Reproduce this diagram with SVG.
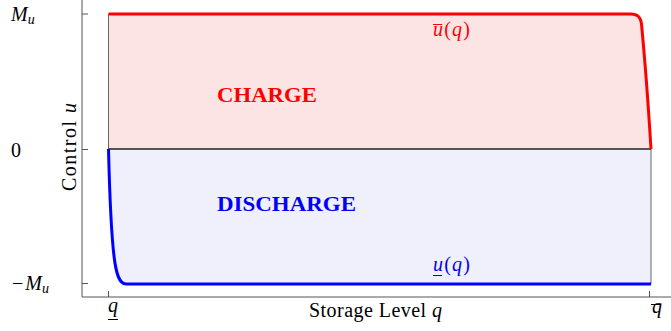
<svg xmlns="http://www.w3.org/2000/svg" width="671" height="331" viewBox="0 0 671 331">
<style>
text{font-family:'Liberation Serif','Times New Roman','DejaVu Serif','Noto Serif',serif}
.t{font-size:20px;fill:#000}
.red{fill:#ff0000}
.blue{fill:#0000ff}
.i{font-style:italic}
.ax{stroke:#555;stroke-width:1;fill:none}
.br{stroke:#666;stroke-width:1;fill:none}
.lab{font-weight:bold;font-size:20px}
</style>
<rect width="671" height="331" fill="#fff"/>
<g id="regions">
<path id="charge-region" d="M108.5,14 L631,14 C637,14 640.5,16 641.5,24 C643.5,45 648,100 651,149 L108.5,149 Z" fill="#fce4e4"/>
<path id="discharge-region" d="M108.5,149 C109.5,190 111.5,235 114,256 C116,273 119,284 126,284 L651,284 L651,149 Z" fill="#f0f0fc"/>
</g>
<g id="axes">
<path class="ax" d="M82,0 V297 H671"/>
<path class="ax" d="M82,14 H88 M82,149.5 H88 M82,283.5 H88 M108.5,297 V291 M649.5,297 V291"/>
<path class="br" d="M108.5,14 V149 M651,149 V284"/>
</g>
<g id="connectors">
<path id="zero-line" d="M108.5,149 H651" stroke="#222" stroke-width="1.5" fill="none"/>
<path id="upper-bound" d="M108.5,14 L631,14 C637,14 640.5,16 641.5,24 C643.5,45 648,100 651,149" stroke="#ff0000" stroke-width="3" fill="none"/>
<path id="lower-bound" d="M108.5,149 C109.5,190 111.5,235 114,256 C116,273 119,284 126,284 L651,284" stroke="#0000ff" stroke-width="3" fill="none"/>
</g>
<g id="tick-labels">
<text class="t" x="11" y="21"><tspan class="i">M</tspan><tspan class="i" font-size="14" dy="3">u</tspan></text>
<text class="t" x="11" y="157">0</text>
<text class="t" x="12" y="290">−<tspan class="i" dx="2">M</tspan><tspan class="i" font-size="14" dy="3">u</tspan></text>
<text class="t i" x="108" y="312">q</text>
<path d="M108,319.5 H118" stroke="#000" stroke-width="1"/>
<text class="t i" x="652" y="313">q</text>
<path d="M651,304.5 H661" stroke="#000" stroke-width="1"/>
</g>
<g id="axis-labels">
<text class="t" x="309" y="317" textLength="133" lengthAdjust="spacing">Storage Level <tspan class="i">q</tspan></text>
<text class="t" transform="translate(76,191) rotate(-90)" textLength="88" lengthAdjust="spacing">Control <tspan class="i">u</tspan></text>
</g>
<g id="charge-label">
<text class="lab red" x="217" y="102" textLength="100" lengthAdjust="spacingAndGlyphs">CHARGE</text>
</g>
<g id="discharge-label">
<text class="lab blue" x="217" y="211" textLength="139" lengthAdjust="spacingAndGlyphs">DISCHARGE</text>
</g>
<g id="upper-label">
<text class="t red" x="433" y="36" textLength="37" lengthAdjust="spacing"><tspan class="i">u</tspan>(<tspan class="i">q</tspan>)</text>
<path d="M433,24.5 H442" stroke="#ff0000" stroke-width="1"/>
</g>
<g id="lower-label">
<text class="t blue" x="433" y="271" textLength="37" lengthAdjust="spacing"><tspan class="i">u</tspan>(<tspan class="i">q</tspan>)</text>
<path d="M433,275.5 H442" stroke="#0000ff" stroke-width="1"/>
</g>
</svg>
